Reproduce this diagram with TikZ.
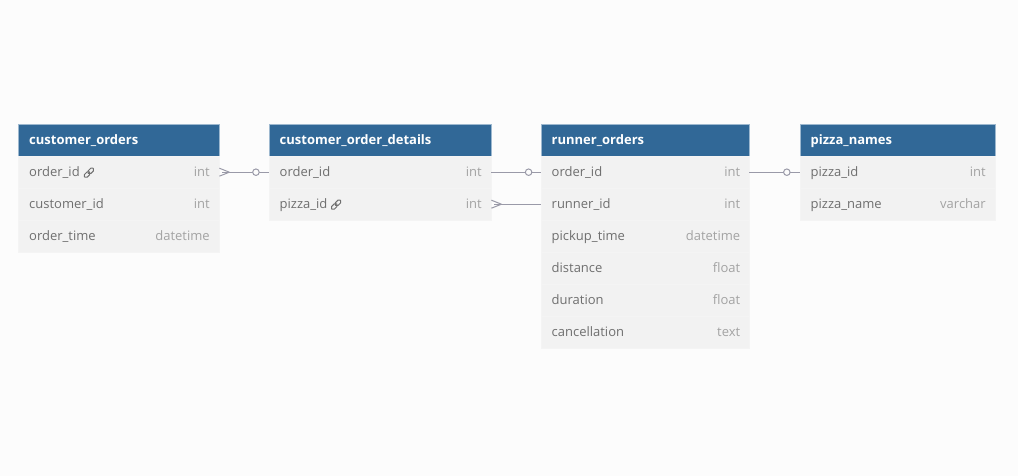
\documentclass[tikz,border=0pt]{standalone}
\usepackage{fontspec}
\setmainfont{Open Sans}
\definecolor{headblue}{HTML}{316897}
\definecolor{headline}{HTML}{9DB8CF}
\definecolor{rowgray}{HTML}{F2F2F2}
\definecolor{rowedge}{HTML}{F4F4F4}
\definecolor{pagegray}{HTML}{FCFCFC}
\definecolor{fieldgray}{HTML}{6F6F6F}
\definecolor{typegray}{HTML}{A3A3A3}
\definecolor{linkgray}{HTML}{9A9AA8}
\tikzset{
  headbox/.style={fill=headblue,draw=headline,line width=0.6pt,anchor=north west,minimum height=32pt,inner sep=0pt},
  rowbox/.style={fill=rowgray,draw=rowedge,line width=0.4pt,anchor=north west,minimum height=32pt,inner sep=0pt},
  headtext/.style={anchor=west,text=white,font=\fontsize{13}{13}\selectfont\bfseries,inner sep=0pt,text height=11pt,text depth=2pt},
  fieldtext/.style={anchor=west,text=fieldgray,font=\fontsize{13}{13}\selectfont,inner sep=0pt,text height=11pt,text depth=2pt},
  typetext/.style={anchor=east,text=typegray,font=\fontsize{13}{13}\selectfont,inner sep=0pt,text height=11pt,text depth=2pt},
  relline/.style={draw=linkgray,line width=1pt},
  reldot/.style={circle,draw=linkgray,line width=1pt,fill=pagegray,inner sep=0pt,minimum size=6.5pt}
}
\begin{document}
\begin{tikzpicture}[x=1pt,y=-1pt]
  \useasboundingbox[fill=pagegray] (0,0) rectangle (1018,476);

  % customer_orders
  \node[headbox,minimum width=201pt] (ordersHead) at (18,124) {};
  \node[headtext] (ordersTitle) at ([xshift=11pt]ordersHead.west) {customer\_orders};
  \foreach \row/\field/\kind [count=\i] in {orderId/order\_id/int,customerId/customer\_id/int,orderTime/order\_time/datetime} {
    \node[rowbox,minimum width=201pt] (\row) at (18,124+32*\i) {};
    \node[fieldtext] (\row Field) at ([xshift=11pt]\row.west) {\field};
    \node[typetext] (\row Kind) at ([xshift=-9.5pt]\row.east) {\kind};
  }

  % customer_order_details
  \node[headbox,minimum width=222pt] (detailsHead) at (269,124) {};
  \node[headtext] (detailsTitle) at ([xshift=10.5pt]detailsHead.west) {customer\_order\_details};
  \foreach \row/\field/\kind [count=\i] in {detailOrderId/order\_id/int,detailPizzaId/pizza\_id/int} {
    \node[rowbox,minimum width=222pt] (\row) at (269,124+32*\i) {};
    \node[fieldtext] (\row Field) at ([xshift=10.5pt]\row.west) {\field};
    \node[typetext] (\row Kind) at ([xshift=-9.5pt]\row.east) {\kind};
  }

  % runner_orders
  \node[headbox,minimum width=208pt] (runnerHead) at (541,124) {};
  \node[headtext] (runnerTitle) at ([xshift=10.5pt]runnerHead.west) {runner\_orders};
  \foreach \row/\field/\kind [count=\i] in {runnerOrderId/order\_id/int,runnerId/runner\_id/int,pickupTime/pickup\_time/datetime,runDistance/distance/float,runDuration/duration/float,runCancel/cancellation/text} {
    \node[rowbox,minimum width=208pt] (\row) at (541,124+32*\i) {};
    \node[fieldtext] (\row Field) at ([xshift=10.5pt]\row.west) {\field};
    \node[typetext] (\row Kind) at ([xshift=-9pt]\row.east) {\kind};
  }

  % pizza_names
  \node[headbox,minimum width=195pt] (pizzaHead) at (800,124) {};
  \node[headtext] (pizzaTitle) at ([xshift=10.5pt]pizzaHead.west) {pizza\_names};
  \foreach \row/\field/\kind [count=\i] in {namePizzaId/pizza\_id/int,pizzaName/pizza\_name/varchar} {
    \node[rowbox,minimum width=195pt] (\row) at (800,124+32*\i) {};
    \node[fieldtext] (\row Field) at ([xshift=10.5pt]\row.west) {\field};
    \node[typetext] (\row Kind) at ([xshift=-9.5pt]\row.east) {\kind};
  }

  % link icons
  \foreach \row/\gap in {orderId/9,detailPizzaId/8.5} {
    \begin{scope}[shift={([xshift=\gap pt,yshift=-0.5pt]\row Field.east)},rotate=45]
      \draw[fieldgray,line width=1pt,rounded corners=1.6pt] (-6,-1.9) rectangle (0.8,1.9);
      \draw[fieldgray,line width=1pt,rounded corners=1.6pt] (-0.8,-1.9) rectangle (6,1.9);
    \end{scope}
  }

  % relations
  \draw[relline] ([xshift=3pt]orderId.east) -- (detailOrderId.west) node[pos=0.72,reldot] (dotA) {};
  \coordinate (forkA) at ([xshift=10pt]orderId.east);
  \draw[relline] (forkA) -- ++(-10,-4) (forkA) -- ++(-10,4);
  \draw[relline] (detailOrderId.east) -- (runnerOrderId.west) node[pos=0.75,reldot] (dotB) {};
  \coordinate (forkB) at ([xshift=10pt]detailPizzaId.east);
  \draw[relline] ([xshift=3pt]detailPizzaId.east) -- (runnerId.west);
  \draw[relline] (forkB) -- ++(-10,-4) (forkB) -- ++(-10,4);
  \draw[relline] (runnerOrderId.east) -- (namePizzaId.west) node[pos=0.74,reldot] (dotC) {};
\end{tikzpicture}
\end{document}
